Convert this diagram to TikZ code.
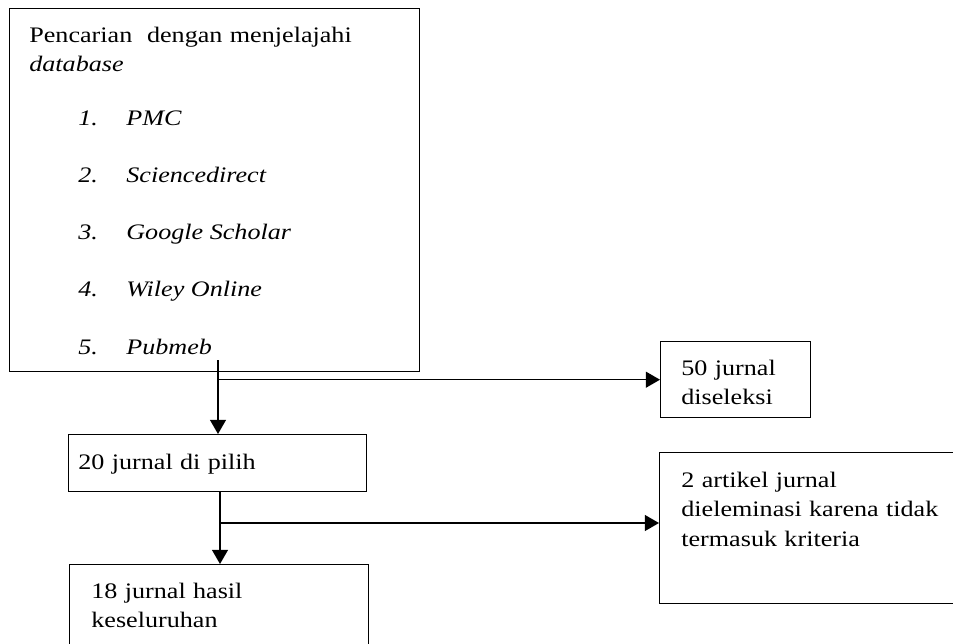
\documentclass[tikz,border=0pt]{standalone}
\usepackage{fontspec}
\setmainfont{Liberation Serif}[FakeStretch=1.18]
\usetikzlibrary{arrows.meta,positioning}
\tikzset{
	box/.style={
		rectangle,
		draw=black,
		line width=0.8pt,
		anchor=north west,
		inner sep=0pt
	},
	boxtext/.style={
		anchor=base west,
		inner sep=0pt,
		align=left,
		text width=#1
	},
	arrow/.style={
		draw=black,
		line width=0.8pt,
		-{Triangle[width=9pt,length=8pt]}
	},
}

\begin{document}
\begin{tikzpicture}[x=0.02cm,y=-0.02cm,font=\fontsize{12.6}{17}\selectfont]
	\useasboundingbox (0,0) rectangle (953,643);
	\clip (0,0) rectangle (953,643);

	\node [box,minimum width=8.2cm,minimum height=7.26cm] (db) at (9,8) {};
	\node [box,minimum width=3cm,minimum height=1.52cm] (sel) at (660,341) {};
	\node [box,minimum width=5.96cm,minimum height=1.14cm] (pilih) at (68,434) {};
	\node [box,minimum width=6.2cm,minimum height=3.02cm] (elim) at (659,452) {};
	\node [box,minimum width=5.98cm,minimum height=2cm] (hasil) at (69,564) {};

	\node [boxtext=8cm] (dbtext) at (29,42) {Pencarian~ dengan menjelajahi\\\textit{database}};
	\foreach \n/\name [count=\i from 0] in {1/PMC,2/Sciencedirect,3/Google Scholar,4/Wiley Online,5/Pubmeb}{
		\node [anchor=base west,inner sep=0pt] (num\n) at (78,125+57.3*\i) {\textit{\n.}};
		\node [anchor=base west,inner sep=0pt] (item\n) at (126,125+57.3*\i) {\textit{\name}};
	}
	\node [boxtext=2.8cm] (seltext) at (681,375) {50 jurnal\\diseleksi};
	\node [boxtext=5.5cm] (pilihtext) at (78,469) {20 jurnal di pilih};
	\node [boxtext=5.8cm] (elimtext) at (681,487) {2 artikel jurnal\\dieleminasi karena tidak\\termasuk kriteria};
	\node [boxtext=5.5cm] (hasiltext) at (91,598) {18 jurnal hasil\\keseluruhan};

	\coordinate (j1) at (218,360);
	\coordinate (j2) at (220,523);
	\path [arrow] (j1) -- (j1 |- pilih.north);
	\path [arrow] (j1 |- sel.west) -- (sel.west);
	\path [arrow] (pilih.south -| j2) -- (j2 |- hasil.north);
	\path [arrow] (j2) -- (j2 -| elim.west);
\end{tikzpicture}
\end{document}
